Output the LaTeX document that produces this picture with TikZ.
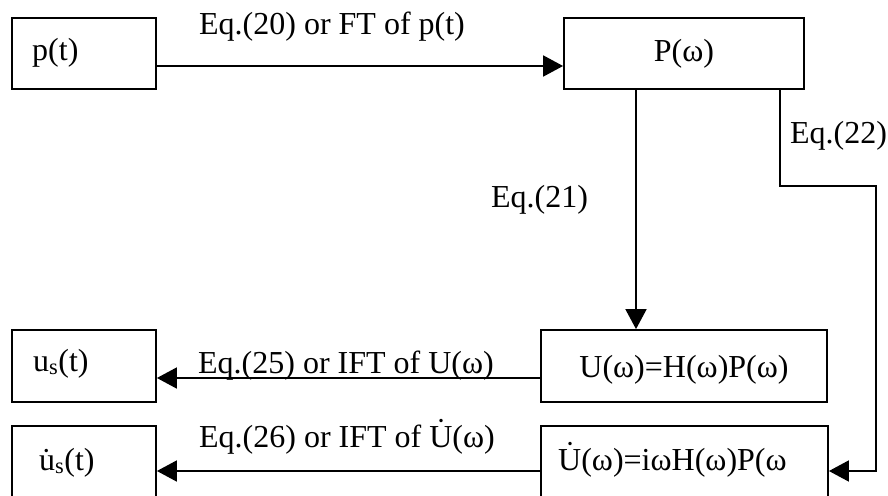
\documentclass[tikz,border=0pt]{standalone}
\usepackage{fontspec}
\setmainfont{Liberation Serif}
\usetikzlibrary{arrows.meta}
\begin{document}
\begin{tikzpicture}[x=1pt,y=-1pt,
  box/.style={draw,line width=1.8pt,inner sep=0pt},
  flow/.style={line width=1.8pt,-{Triangle[length=20pt,width=21pt]}},
  lbl/.style={font=\fontsize{32}{36}\selectfont,inner sep=0pt}]
\useasboundingbox (0,0) rectangle (888,495);
\clip (0,0) rectangle (888,495);

% boxes
\node[box,minimum width=144pt,minimum height=71pt] (pt)  at (84,53.5) {};
\node[box,minimum width=240pt,minimum height=71pt] (Pw)  at (684,53.5) {};
\node[box,minimum width=286pt,minimum height=72pt] (Uw)  at (684,366) {};
\node[box,minimum width=144pt,minimum height=72pt] (us)  at (84,366) {};
\node[box,minimum width=144pt,minimum height=80pt] (uds) at (84,466) {};
\node[box,minimum width=287pt,minimum height=80pt] (Udw) at (684.5,466) {};

% box contents
\node[lbl,anchor=base west] (tpt)  at (32,60)   {p(t)};
\node[lbl,anchor=base]      (tPw)  at (684,61)  {P(ω)};
\node[lbl,anchor=base]      (tUw)  at (684,377) {U(ω)=H(ω)P(ω)};
\node[lbl,anchor=base west] (tus)  at (33,371)  {u\textsubscript{s}(t)};
\node[lbl,anchor=base west] (tuds) at (39,470)  {\.{u}\textsubscript{s}(t)};
\node[lbl,anchor=base west] (tUdw) at (558,470) {\.{U}(ω)=iωH(ω)P(ω};

% connectors
\draw[flow] (pt.east |- 0,66) -- (Pw.west |- 0,66);
\draw[flow] (Pw.south -| 636,0) -- (Uw.north -| 636,0);
\draw[flow] (Pw.south -| 780,0) -- (780,186) -- (876,186) -- (876,471) -- (Udw.east |- 0,471);
\draw[flow] (Uw.west |- 0,378) -- (us.east |- 0,378);
\draw[flow] (Udw.west |- 0,471) -- (uds.east |- 0,471);

% connector labels
\node[lbl,anchor=base] (l20) at (332,35)    {Eq.(20) or FT of p(t)};
\node[lbl,anchor=base] (l21) at (539.5,207) {Eq.(21)};
\node[lbl,anchor=base] (l22) at (838.5,143) {Eq.(22)};
\node[lbl,anchor=base] (l25) at (346,373)   {Eq.(25) or IFT of U(ω)};
\node[lbl,anchor=base] (l26) at (347,447)   {Eq.(26) or IFT of \.{U}(ω)};
\end{tikzpicture}
\end{document}
